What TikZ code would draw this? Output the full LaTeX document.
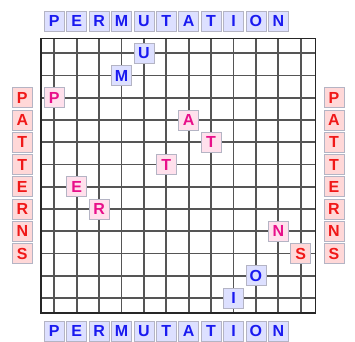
\documentclass[tikz,border=0pt]{standalone}
\usepackage{fontspec}
\setmainfont{Liberation Sans}
\definecolor{permfill}{HTML}{DDE0FF}
\definecolor{permtext}{HTML}{1A1AF0}
\definecolor{patfill}{HTML}{FFE0EC}
\definecolor{pattext}{HTML}{E8108A}
\definecolor{sidefill}{HTML}{FFD8D8}
\definecolor{sidetext}{HTML}{F01818}
\definecolor{boxedge}{HTML}{B4B4C4}
\definecolor{gridline}{HTML}{555555}
\begin{document}
\begin{tikzpicture}[x=1pt,y=-1pt,
  letter/.style={draw=boxedge,line width=0.8pt,minimum size=20pt,inner sep=0pt,
    font=\fontsize{16}{16}\selectfont\bfseries},
  permbox/.style={letter,fill=permfill,text=permtext},
  patbox/.style={letter,fill=patfill,text=pattext},
  sidebox/.style={letter,fill=sidefill,text=sidetext}]
\useasboundingbox (0,0) rectangle (355,341);
% grid
\foreach \c in {0,...,11} {
  \draw[gridline,line width=1.7pt] ({54.3+22.4*\c},38.5) -- ({54.3+22.4*\c},313);
  \draw[gridline,line width=1.7pt] (41,{53.3+22.25*\c}) -- (315.5,{53.3+22.25*\c});
}
\draw[black!85,line width=1.7pt] (41,38.5) rectangle (315.5,313);
% word along top and bottom
\foreach \l [count=\i] in {P,E,R,M,U,T,A,T,I,O,N} {
  \node[permbox] (top\i) at ({54.3+22.4*(\i-1)},21) {\l};
  \node[permbox] (bot\i) at ({54.3+22.4*(\i-1)},331) {\l};
}
% word along the sides
\foreach \l [count=\j] in {P,A,T,T,E,R,N,S} {
  \node[sidebox] (left\j) at (22.3,{53.3+22.25*(\j+1)}) {\l};
  \node[sidebox] (right\j) at (334,{53.3+22.25*(\j+1)}) {\l};
}
% letters in the grid
\node[permbox] (u) at ({54.3+22.4*4},{53.3+22.25*0}) {U};
\node[permbox] (m) at ({54.3+22.4*3},{53.3+22.25*1}) {M};
\node[permbox] (o) at ({54.3+22.4*9},{53.3+22.25*10}) {O};
\node[permbox] (i) at ({54.3+22.4*8},{53.3+22.25*11}) {I};
\node[patbox] (p) at ({54.3+22.4*0},{53.3+22.25*2}) {P};
\node[patbox] (a) at ({54.3+22.4*6},{53.3+22.25*3}) {A};
\node[patbox] (t1) at ({54.3+22.4*7},{53.3+22.25*4}) {T};
\node[patbox] (t2) at ({54.3+22.4*5},{53.3+22.25*5}) {T};
\node[patbox] (e) at ({54.3+22.4*1},{53.3+22.25*6}) {E};
\node[patbox] (r) at ({54.3+22.4*2},{53.3+22.25*7}) {R};
\node[patbox] (n) at ({54.3+22.4*10},{53.3+22.25*8}) {N};
\node[sidebox] (s) at ({54.3+22.4*11},{53.3+22.25*9}) {S};
\end{tikzpicture}
\end{document}
